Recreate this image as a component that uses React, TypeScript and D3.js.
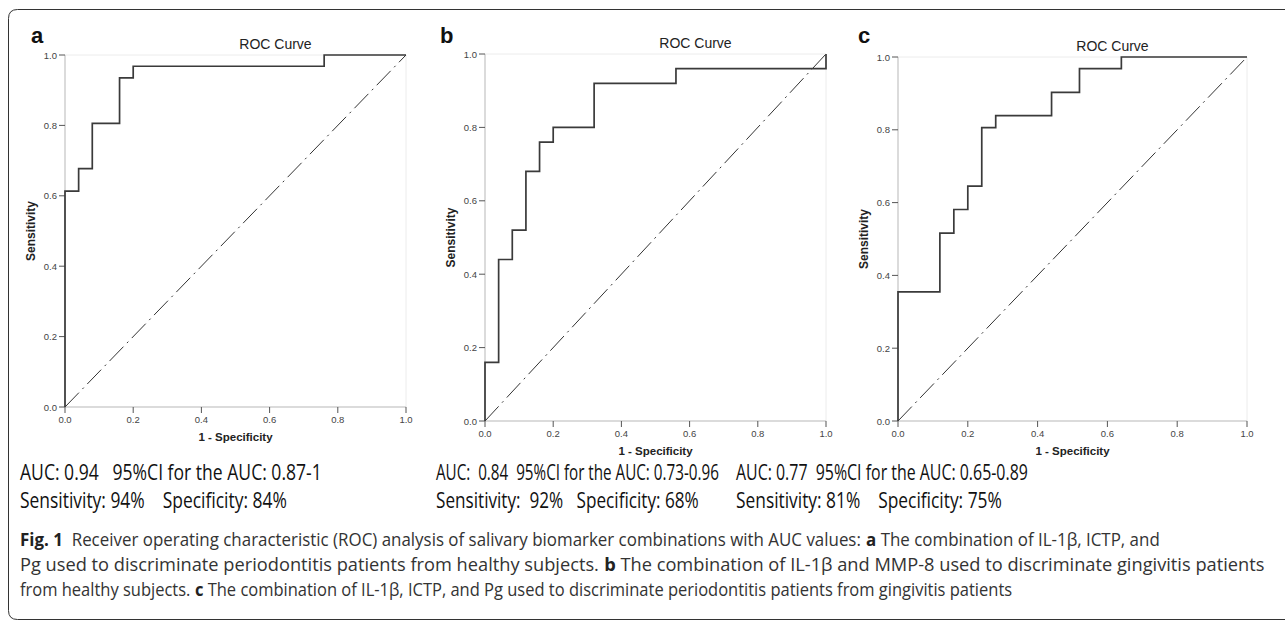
import React from "react";
import * as d3 from "d3";

// ---- data ----
const ticks = [0, 0.2, 0.4, 0.6, 0.8, 1.0];

const fprA = [0, 0, 0.04, 0.08, 0.16, 0.2, 0.76, 1];
const tprA = [0, 0.613, 0.677, 0.806, 0.935, 0.968, 1, 1];

const fprB = [0, 0, 0.04, 0.08, 0.12, 0.16, 0.2, 0.32, 0.56, 1, 1];
const tprB = [0, 0.16, 0.44, 0.52, 0.68, 0.76, 0.8, 0.92, 0.96, 0.96, 1.0];

const fprC = [0, 0, 0.12, 0.16, 0.2, 0.24, 0.28, 0.44, 0.52, 0.64, 1];
const tprC = [0, 0.355, 0.516, 0.581, 0.645, 0.806, 0.839, 0.903, 0.968, 1, 1];

const panelLetters = ["a", "b", "c"];
const chartTitle = "ROC Curve";
const xTitle = "1 - Specificity";
const yTitle = "Sensitivity";

const aucLines = [
  "AUC: 0.94   95%CI for the AUC: 0.87-1",
  "AUC:  0.84  95%CI for the AUC: 0.73-0.96",
  "AUC: 0.77  95%CI for the AUC: 0.65-0.89",
];
const sensLines = [
  "Sensitivity: 94%    Specificity: 84%",
  "Sensitivity:  92%   Specificity: 68%",
  "Sensitivity: 81%    Specificity: 75%",
];

const captionLine1 = [
  { t: "Fig. 1", b: true },
  { t: "  Receiver operating characteristic (ROC) analysis of salivary biomarker combinations with AUC values: ", b: false },
  { t: "a", b: true },
  { t: " The combination of IL-1β, ICTP, and", b: false },
];
const captionLine2 = [
  { t: "Pg used to discriminate periodontitis patients from healthy subjects. ", b: false },
  { t: "b", b: true },
  { t: " The combination of IL-1β and MMP-8 used to discriminate gingivitis patients", b: false },
];
const captionLine3 = [
  { t: "from healthy subjects. ", b: false },
  { t: "c", b: true },
  { t: " The combination of IL-1β, ICTP, and Pg used to discriminate periodontitis patients from gingivitis patients", b: false },
];

// ---- layout ----
const panels = [
  { letter: 0, fpr: fprA, tpr: tprA, left: 65, right: 406, top: 55, bottom: 407, lx: 31, ly: 43, textX: 20, aucW: 302, sensW: 267 },
  { letter: 1, fpr: fprB, tpr: tprB, left: 485, right: 826, top: 54, bottom: 421, lx: 440, ly: 43, textX: 436, aucW: 283, sensW: 263 },
  { letter: 2, fpr: fprC, tpr: tprC, left: 898, right: 1247, top: 57, bottom: 421, lx: 858, ly: 43, textX: 736, aucW: 292, sensW: 266 },
];

const captionRows = [
  { segs: captionLine1, y: 546, w: 1140 },
  { segs: captionLine2, y: 571, w: 1245 },
  { segs: captionLine3, y: 596, w: 993 },
];

const chartFont = "'Liberation Sans', Arial, sans-serif";
const capFontName = "Open Sans";
const capFont = "'Open Sans', 'Noto Sans', sans-serif";
const capSize = 18;
const statSize = 21;

let measureCtx: CanvasRenderingContext2D | null = null;
function measure(txt: string, bold: boolean, size: number) {
  if (!measureCtx) {
    const c = document.createElement("canvas");
    measureCtx = c.getContext("2d");
  }
  if (!measureCtx) return txt.length * size * 0.5;
  measureCtx.font = `${bold ? "bold " : ""}${size}px '${capFontName}'`;
  return measureCtx.measureText(txt).width;
}

// Text drawn with a reduced font size (so its natural width fits the target width)
// and stretched vertically back to the intended glyph height.
function FitRow({
  segs,
  x0,
  y,
  w,
  size,
  fill,
  boldFill,
}: {
  segs: { t: string; b: boolean }[];
  x0: number;
  y: number;
  w: number;
  size: number;
  fill: string;
  boldFill: string;
}) {
  const widths = segs.map((s) => measure(s.t, s.b, size));
  const total = widths.reduce((a, b) => a + b, 0);
  const k = w / total;
  const fs = size * k;
  const sy = 1 / k;
  let x = x0;
  return (
    <g>
      {segs.map((s, i) => {
        const el = (
          <text
            key={i}
            transform={`translate(${x},${y}) scale(1,${sy})`}
            fontFamily={capFont}
            fontSize={fs}
            fontWeight={s.b ? "bold" : "normal"}
            fill={s.b ? boldFill : fill}
            style={{ whiteSpace: "pre" }}
          >
            {s.t}
          </text>
        );
        x += widths[i] * k;
        return el;
      })}
    </g>
  );
}

function Panel({ p }: { p: any }) {
  const x = d3.scaleLinear().domain([0, 1]).range([p.left, p.right]);
  const y = d3.scaleLinear().domain([0, 1]).range([p.bottom, p.top]);
  const pts: [number, number][] = p.fpr.map((f: number, i: number) => [f, p.tpr[i]]);
  const line = d3
    .line<[number, number]>()
    .x((d) => x(d[0]))
    .y((d) => y(d[1]))
    .curve(d3.curveStepAfter);
  const diag = d3
    .line<[number, number]>()
    .x((d) => x(d[0]))
    .y((d) => y(d[1]));
  const cx = (p.left + p.right) / 2;
  const cy = (p.top + p.bottom) / 2;
  return (
    <g>
      {/* frame */}
      <line x1={x(0)} x2={x(1)} y1={y(1)} y2={y(1)} stroke="#ececec" strokeWidth={1} />
      <line x1={x(1)} x2={x(1)} y1={y(0)} y2={y(1)} stroke="#ececec" strokeWidth={1} />
      <line x1={x(0)} x2={x(1)} y1={y(0)} y2={y(0)} stroke="#cfcfcf" strokeWidth={1.5} />
      <line x1={x(0)} x2={x(0)} y1={y(0)} y2={y(1)} stroke="#cfcfcf" strokeWidth={1.5} />
      {/* ticks */}
      {ticks.map((t) => (
        <g key={"y" + t}>
          <line x1={x(0) - 6} x2={x(0)} y1={y(t)} y2={y(t)} stroke="#555" strokeWidth={1} />
          <text x={x(0) - 8} y={y(t) + 3.5} textAnchor="end" fontSize={9.5} fill="#444" fontFamily={chartFont}>
            {t.toFixed(1)}
          </text>
        </g>
      ))}
      {ticks.map((t) => (
        <g key={"x" + t}>
          <line x1={x(t)} x2={x(t)} y1={y(0)} y2={y(0) + 6} stroke="#555" strokeWidth={1} />
          <text x={x(t)} y={y(0) + 16} textAnchor="middle" fontSize={9.5} fill="#444" fontFamily={chartFont}>
            {t.toFixed(1)}
          </text>
        </g>
      ))}
      {/* diagonal */}
      <path
        d={diag([[0, 0], [1, 1]]) || ""}
        fill="none"
        stroke="#333"
        strokeWidth={1}
        strokeDasharray="20,5,2,5"
      />
      {/* roc curve */}
      <path d={line(pts) || ""} fill="none" stroke="#3a3a3a" strokeWidth={1.7} />
      {/* titles */}
      <text x={cx + 40} y={p.top - 6} textAnchor="middle" fontSize={14} fill="#222" fontFamily={chartFont}>
        {chartTitle}
      </text>
      <text x={cx} y={p.bottom + 34} textAnchor="middle" fontSize={11.5} fontWeight="bold" fill="#222" fontFamily={chartFont}>
        {xTitle}
      </text>
      <text
        transform={`translate(${p.left - 30},${cy}) rotate(-90)`}
        textAnchor="middle"
        fontSize={12}
        fontWeight="bold"
        fill="#222"
        fontFamily={chartFont}
      >
        {yTitle}
      </text>
      <text x={p.lx} y={p.ly} fontSize={22} fontWeight="bold" fill="#111" fontFamily={chartFont}>
        {panelLetters[p.letter]}
      </text>
      {/* stats */}
      <FitRow segs={[{ t: aucLines[p.letter], b: false }]} x0={p.textX} y={480} w={p.aucW} size={statSize} fill="#111" boldFill="#111" />
      <FitRow segs={[{ t: sensLines[p.letter], b: false }]} x0={p.textX} y={508} w={p.sensW} size={statSize} fill="#111" boldFill="#111" />
    </g>
  );
}

export default function App() {
  return (
    <svg width={1285} height={626} style={{ position: "absolute", left: 0, top: 0, background: "#fff" }}>
      <rect x={0} y={0} width={1285} height={626} fill="#fff" />
      <path d="M 1300 9.5 L 17.5 9.5 Q 8.5 9.5 8.5 18.5 L 8.5 610.5 Q 8.5 619.5 17.5 619.5 L 1300 619.5" fill="none" stroke="#333" strokeWidth={1} />
      {panels.map((p, i) => (
        <Panel key={i} p={p} />
      ))}
      {captionRows.map((r, i) => (
        <FitRow key={i} segs={r.segs} x0={20} y={r.y} w={r.w} size={capSize} fill="#333" boldFill="#222" />
      ))}
    </svg>
  );
}
